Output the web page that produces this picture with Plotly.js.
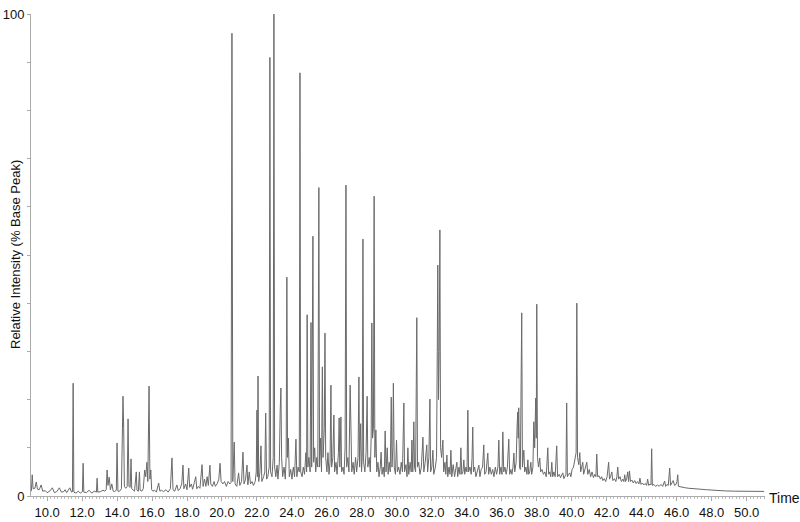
<!DOCTYPE html>
<html>
<head>
<meta charset="utf-8">
<script src="https://cdn.plot.ly/plotly-3.0.1.min.js"></script>
<style>
  html, body { margin: 0; padding: 0; background: #fff; }
  #chrom { width: 800px; height: 522px; }
</style>
</head>
<body>
<div id="chrom"></div>
<script>
// retention time (min) / relative intensity (% base peak)
var rt1 = [9.10, 9.15, 9.20, 9.30, 9.38, 9.45, 9.55, 9.66, 9.75, 9.90,
  10.00, 10.15, 10.30, 10.42, 10.55, 10.70, 10.82, 10.95, 11.03, 11.12,
  11.30, 11.40, 11.45, 11.49, 11.53, 11.65, 11.78, 11.90, 12.02, 12.06,
  12.10, 12.25, 12.40, 12.55, 12.70, 12.82, 12.86, 12.90, 13.05, 13.20,
  13.30, 13.38, 13.43, 13.48, 13.55, 13.62, 13.70, 13.78, 13.85, 13.96,
  14.00, 14.05, 14.15, 14.25, 14.30, 14.34, 14.38, 14.42, 14.50, 14.58,
  14.63, 14.68, 14.75, 14.80, 14.84, 14.92, 15.00, 15.10, 15.14, 15.22,
  15.28, 15.32, 15.42, 15.50, 15.58, 15.64, 15.71, 15.76, 15.83, 15.88,
  15.93, 15.98, 16.05, 16.15, 16.25, 16.38, 16.45];
var ab1 = [1.0, 4.4, 1.5, 1.6, 2.9, 1.4, 1.3, 2.3, 1.0, 1.1,
  0.7, 1.0, 1.7, 0.7, 0.9, 1.7, 0.8, 0.9, 1.3, 0.7,
  1.7, 0.8, 0.9, 23.4, 0.8, 0.6, 1.0, 0.6, 0.9, 6.8,
  0.8, 0.7, 1.2, 0.6, 1.0, 0.8, 3.7, 0.8, 0.9, 1.2,
  1.0, 1.3, 5.4, 2.2, 3.9, 1.3, 2.5, 1.0, 0.9, 1.2,
  11.0, 1.0, 1.0, 1.5, 12.0, 20.7, 14.0, 2.0, 1.6, 2.0,
  16.0, 2.0, 1.8, 7.7, 1.5, 1.2, 1.0, 5.0, 1.2, 1.0,
  5.0, 1.2, 1.0, 1.5, 5.4, 4.0, 7.0, 3.0, 22.8, 3.5,
  5.4, 1.3, 1.0, 1.2, 0.8, 2.7, 1.0];

var rt2 = [16.55, 16.65, 16.80, 16.92, 17.05, 17.14, 17.20, 17.30, 17.42, 17.50,
  17.60, 17.70, 17.77, 17.82, 17.92, 18.00, 18.10, 18.15, 18.25, 18.32,
  18.42, 18.50, 18.56, 18.65, 18.74, 18.86, 18.92, 19.00, 19.08, 19.15,
  19.22, 19.31, 19.36, 19.45, 19.55, 19.62, 19.72, 19.82, 19.89, 19.95,
  20.05, 20.15, 20.25, 20.35, 20.45, 20.52, 20.57, 20.62, 20.70, 20.75];
var ab2 = [1.2, 0.9, 1.3, 0.8, 1.5, 7.9, 1.3, 1.0, 2.3, 1.1,
  1.5, 2.5, 6.4, 1.5, 2.5, 1.3, 5.8, 1.8, 2.5, 1.4,
  2.8, 4.0, 1.5, 2.0, 1.6, 6.5, 2.0, 3.5, 2.0, 4.0,
  2.2, 6.4, 2.5, 2.0, 3.0, 2.0, 2.5, 3.5, 6.8, 3.0,
  2.5, 3.0, 2.0, 3.0, 2.5, 2.8, 96.0, 3.0, 11.2, 2.5];

var rt3 = [20.85, 20.95, 21.02, 21.12, 21.20, 21.26, 21.35, 21.43, 21.48, 21.56,
  21.63, 21.72, 21.80, 21.90, 21.96, 22.00, 22.03, 22.06, 22.10, 22.17,
  22.23, 22.28, 22.38, 22.45, 22.50, 22.55, 22.62, 22.70, 22.74, 22.78,
  22.86, 22.93, 22.97, 23.01, 23.08, 23.15, 23.20, 23.28, 23.33, 23.37,
  23.41, 23.47, 23.55, 23.62, 23.67, 23.71, 23.75, 23.80, 23.85, 23.93,
  24.00, 24.08, 24.15, 24.23, 24.28, 24.35, 24.42, 24.46, 24.50, 24.58,
  24.65, 24.72];
var ab3 = [2.0, 4.8, 2.2, 3.0, 9.1, 2.5, 3.5, 6.4, 2.3, 5.0,
  2.5, 3.0, 2.2, 3.0, 5.0, 17.8, 4.0, 24.9, 3.0, 5.0,
  10.4, 3.0, 4.0, 5.0, 17.2, 3.5, 4.0, 6.0, 91.0, 5.0,
  4.0, 8.0, 100, 6.0, 4.0, 6.4, 3.5, 7.0, 17.8, 22.4,
  8.0, 4.0, 6.0, 3.5, 8.0, 45.4, 8.0, 12.0, 4.0, 5.5,
  3.5, 6.0, 4.0, 11.8, 4.0, 6.0, 5.0, 87.8, 5.0, 4.0,
  6.0, 4.5];

var rt4 = [24.80, 24.84, 24.87, 24.91, 24.97, 25.04, 25.09, 25.13, 25.20, 25.24,
  25.30, 25.36, 25.42, 25.48, 25.54, 25.58, 25.64, 25.69, 25.74, 25.78,
  25.85, 25.89, 25.93, 26.00, 26.06, 26.12, 26.18, 26.23, 26.27, 26.34,
  26.40, 26.44, 26.52, 26.58, 26.66, 26.70, 26.74, 26.80, 26.84, 26.92,
  26.98, 27.04, 27.09, 27.13, 27.20, 27.26, 27.33, 27.37, 27.42, 27.50,
  27.56, 27.64, 27.70, 27.78, 27.83, 27.87, 27.93, 27.98, 28.02, 28.06,
  28.10, 28.17, 28.24, 28.30, 28.34, 28.42, 28.48, 28.53, 28.57, 28.61,
  28.66, 28.70, 28.74, 28.80, 28.85, 28.92, 28.98, 29.05, 29.10, 29.15,
  29.22, 29.28, 29.33, 29.38, 29.45, 29.50, 29.56, 29.62, 29.68, 29.72,
  29.77, 29.80, 29.85, 29.92, 29.98, 30.03];
var ab4 = [9.0, 5.0, 37.6, 6.0, 8.0, 5.0, 36.0, 6.0, 53.9, 7.0,
  10.0, 5.0, 8.0, 6.0, 64.0, 6.0, 12.0, 5.0, 26.8, 8.0,
  14.0, 33.8, 8.0, 5.0, 9.0, 4.5, 7.0, 23.0, 6.0, 8.0,
  16.8, 5.0, 7.0, 4.5, 9.0, 16.2, 6.0, 16.4, 5.0, 6.0,
  4.5, 10.0, 64.5, 6.0, 8.0, 5.0, 23.0, 10.0, 5.0, 7.0,
  4.5, 8.0, 5.0, 8.0, 24.7, 6.0, 15.0, 5.0, 8.0, 53.3,
  7.0, 5.0, 9.0, 20.7, 6.0, 8.0, 5.0, 12.0, 35.9, 12.0,
  14.0, 62.2, 8.0, 13.7, 5.0, 7.0, 4.0, 6.0, 9.1, 4.5,
  6.0, 4.0, 13.5, 5.0, 10.0, 4.5, 7.0, 5.0, 20.5, 6.0,
  10.0, 23.4, 6.0, 4.5, 11.6, 5.0];

var rt5 = [30.10, 30.18, 30.25, 30.32, 30.36, 30.40, 30.44, 30.52, 30.58, 30.63,
  30.68, 30.76, 30.82, 30.86, 30.91, 30.97, 31.01, 31.07, 31.14, 31.18,
  31.25, 31.32, 31.40, 31.49, 31.54, 31.62, 31.71, 31.76, 31.83, 31.89,
  31.93, 32.00, 32.06, 32.11, 32.20, 32.27, 32.31, 32.34, 32.38, 32.42,
  32.46, 32.50, 32.56, 32.63, 32.68, 32.75, 32.80, 32.86, 32.91, 32.98,
  33.04, 33.09, 33.14, 33.22, 33.30, 33.36, 33.43, 33.48, 33.55, 33.61,
  33.66, 33.71, 33.78, 33.83, 33.88, 33.95, 34.01, 34.06, 34.10, 34.18,
  34.25, 34.30, 34.34, 34.38, 34.45, 34.52, 34.60, 34.69, 34.75, 34.82,
  34.90, 34.97, 35.02, 35.10, 35.20, 35.25];
var ab5 = [6.0, 4.5, 7.0, 5.0, 12.0, 19.3, 5.0, 6.5, 4.0, 10.0,
  4.5, 7.0, 5.0, 11.6, 5.0, 15.4, 6.0, 5.0, 37.0, 6.0,
  7.0, 4.5, 6.0, 12.2, 5.0, 7.0, 10.6, 5.0, 8.0, 20.1,
  5.0, 6.0, 9.5, 4.5, 6.0, 8.0, 30.0, 47.9, 20.0, 30.0,
  55.2, 10.0, 8.0, 11.6, 5.0, 7.0, 4.5, 8.5, 4.0, 6.0,
  4.5, 9.5, 4.0, 6.5, 4.0, 5.5, 7.0, 4.0, 6.0, 4.5,
  10.0, 4.5, 5.0, 7.5, 4.5, 6.0, 5.0, 17.8, 5.0, 6.0,
  4.5, 8.0, 14.3, 5.0, 6.0, 4.0, 5.5, 6.4, 4.0, 5.5,
  6.0, 10.6, 4.5, 5.0, 8.9, 4.5];

var rt6 = [35.32, 35.40, 35.48, 35.55, 35.63, 35.70, 35.78, 35.83, 35.88, 35.95,
  36.01, 36.06, 36.11, 36.18, 36.25, 36.32, 36.40, 36.45, 36.52, 36.58,
  36.64, 36.69, 36.74, 36.82, 36.88, 36.91, 36.94, 36.97, 37.01, 37.06,
  37.14, 37.18, 37.26, 37.31, 37.38, 37.44, 37.49, 37.54, 37.60, 37.66,
  37.71, 37.78, 37.83, 37.88, 37.94, 37.97, 38.00, 38.04, 38.10, 38.17,
  38.22, 38.30, 38.38, 38.46, 38.54, 38.63, 38.68, 38.75, 38.80, 38.86,
  38.91, 38.98, 39.05, 39.14, 39.19, 39.28, 39.36, 39.42, 39.49, 39.55,
  39.62, 39.67, 39.71, 39.75, 39.82, 39.89, 39.95, 40.02, 40.10, 40.18,
  40.25, 40.29, 40.33, 40.40, 40.46, 40.51];
var ab6 = [6.0, 4.5, 5.5, 4.0, 6.0, 4.5, 6.0, 11.6, 4.5, 6.0,
  4.5, 13.3, 5.0, 6.0, 4.5, 6.0, 11.8, 4.5, 5.5, 4.5,
  6.0, 8.9, 5.0, 7.0, 15.0, 17.4, 12.0, 18.3, 6.0, 5.5,
  38.0, 6.0, 9.5, 5.0, 6.0, 4.5, 7.5, 4.5, 5.0, 7.0,
  4.5, 6.0, 15.4, 10.0, 20.3, 12.0, 39.8, 8.0, 6.0, 7.9,
  5.0, 5.5, 4.5, 5.0, 4.0, 10.0, 4.5, 5.0, 4.0, 7.0,
  4.0, 5.0, 4.0, 10.4, 4.0, 4.5, 3.8, 4.5, 4.8, 3.6,
  4.0, 4.5, 19.3, 4.0, 4.5, 4.8, 4.0, 5.5, 6.0, 8.0,
  9.0, 40.0, 8.0, 6.5, 9.0, 5.0];

var rt7 = [40.57, 40.63, 40.68, 40.76, 40.86, 40.92, 41.00, 41.08, 41.16, 41.24,
  41.32, 41.38, 41.43, 41.48, 41.56, 41.64, 41.71, 41.78, 41.86, 41.94,
  42.02, 42.11, 42.16, 42.22, 42.29, 42.35, 42.44, 42.52, 42.58, 42.63,
  42.68, 42.76, 42.84, 42.92, 42.98, 43.03, 43.08, 43.14, 43.20, 43.25,
  43.30, 43.36, 43.44, 43.52, 43.60, 43.68, 43.76, 43.84, 43.90, 43.96,
  44.04, 44.12, 44.20, 44.28, 44.34, 44.40, 44.48, 44.53, 44.57, 44.61,
  44.70, 44.80, 44.90, 45.00, 45.10, 45.20, 45.31, 45.37, 45.45, 45.52,
  45.56, 45.60, 45.65, 45.72, 45.80, 45.88, 45.96, 46.02, 46.06, 46.10,
  46.20, 46.35, 46.50, 46.70, 46.90, 47.10, 47.40, 47.70, 48.00, 48.40,
  48.80, 49.30, 49.80, 50.30, 51.00];
var ab7 = [6.0, 7.0, 4.5, 5.5, 7.0, 4.5, 5.5, 4.0, 5.0, 3.8,
  4.5, 4.0, 8.7, 4.0, 4.2, 3.5, 4.0, 3.2, 3.6, 3.0,
  4.0, 7.0, 3.5, 4.0, 5.0, 3.2, 3.6, 3.0, 4.0, 6.0,
  3.5, 4.0, 3.0, 3.5, 3.0, 4.4, 3.0, 3.6, 5.0, 3.0,
  5.2, 3.0, 3.3, 2.7, 3.2, 2.6, 3.0, 2.5, 3.7, 2.4,
  2.7, 2.3, 2.6, 2.2, 3.5, 2.2, 2.5, 2.3, 9.8, 2.2,
  2.4, 2.0, 2.3, 2.0, 2.4, 2.0, 3.1, 2.0, 2.4, 2.2,
  4.0, 5.8, 2.2, 2.6, 3.2, 2.2, 2.4, 3.0, 4.4, 2.0,
  1.9, 1.8, 1.7, 1.6, 1.5, 1.5, 1.4, 1.3, 1.2, 1.1,
  1.05, 1.0, 1.0, 0.95, 0.95];

var yTicks = [0, 10, 20, 30, 40, 50, 60, 70, 80, 90, 100];
var yTickText = ["0", "", "", "", "", "", "", "", "", "", "100"];

var time = rt1.concat(rt2, rt3, rt4, rt5, rt6, rt7);
var intensity = ab1.concat(ab2, ab3, ab4, ab5, ab6, ab7);

var trace = {
  x: time,
  y: intensity,
  type: "scatter",
  mode: "lines",
  line: {color: "#6a6a6a", width: 1},
  hoverinfo: "skip"
};

var layout = {
  width: 800,
  height: 522,
  margin: {l: 31, r: 35, t: 14, b: 26},
  paper_bgcolor: "#fff",
  plot_bgcolor: "#fff",
  showlegend: false,
  font: {family: "Liberation Sans, Arial, sans-serif", size: 13, color: "#111"},
  xaxis: {
    range: [9.08, 51.05],
    tick0: 0,
    dtick: 2,
    tickformat: ".1f",
    ticks: "outside",
    ticklen: 4,
    tickcolor: "#aaa",
    showline: true,
    linecolor: "#aaa",
    linewidth: 1,
    showgrid: false,
    zeroline: false,
    minor: {dtick: 0.2, ticks: "outside", ticklen: 2, tickcolor: "#bbb", showgrid: false}
  },
  yaxis: {
    range: [0, 100],
    tickvals: yTicks,
    ticktext: yTickText,
    ticks: "outside",
    ticklen: 3,
    tickcolor: "#aaa",
    showline: true,
    linecolor: "#aaa",
    linewidth: 1,
    showgrid: false,
    zeroline: false
  },
  annotations: [
    {
      text: "Relative Intensity (% Base Peak)",
      xref: "paper", yref: "paper",
      x: 0, y: 0.5, xshift: -16,
      xanchor: "center", yanchor: "middle",
      textangle: -90, showarrow: false,
      font: {size: 13, color: "#111"}
    },
    {
      text: "Time",
      xref: "paper", yref: "paper",
      x: 1, y: 0, xshift: 2, yshift: -2,
      xanchor: "left", yanchor: "middle",
      showarrow: false,
      font: {size: 14, color: "#111"}
    }
  ]
};

Plotly.newPlot("chrom", [trace], layout, {displayModeBar: false, staticPlot: true});
</script>
</body>
</html>
